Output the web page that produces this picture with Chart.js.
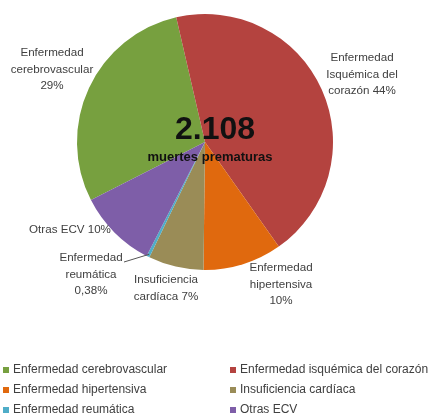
<!DOCTYPE html>
<html>
<head>
<meta charset="utf-8">
<script src="https://cdn.jsdelivr.net/npm/chart.js@4"></script>
<style>
  html, body { margin: 0; padding: 0; background: #fff; }
  #wrap { width: 430px; height: 414px; position: relative; overflow: hidden; }
</style>
</head>
<body>
<div id="wrap"><canvas id="pie" width="430" height="414"></canvas></div>
<script>
// data
const categories = ['Enfermedad cerebrovascular', 'Enfermedad isquémica del corazón', 'Enfermedad hipertensiva', 'Insuficiencia cardíaca', 'Enfermedad reumática', 'Otras ECV'];
const values = [29, 44, 10, 7, 0.38, 10];
const sliceLabels = [
	['Enfermedad', 'cerebrovascular', '29%'],
	['Enfermedad', 'Isquémica del', 'corazón 44%'],
	['Enfermedad', 'hipertensiva', '10%'],
	['Insuficiencia', 'cardíaca 7%'],
	['Enfermedad', 'reumática', '0,38%'],
	['Otras ECV 10%']
];
const colors = ['#77a03f', '#b4433f', '#e0690e', '#9a8c57', '#4fadc8', '#7e5ea8'];
const totalText = '2.108';
const subText = 'muertes prematuras';

// label centres (x, first line y)
const labelPos = [[52, 53], [362, 58], [281, 268], [166, 280], [91, 258], [70, 230]];

const labelsPlugin = {
	id: 'sliceLabels',
	afterDraw(chart) {
		let ctx = chart.ctx;
		ctx.save();
		ctx.textAlign = 'center';
		ctx.textBaseline = 'middle';
		ctx.fillStyle = '#404040';
		ctx.font = '11.6px "Liberation Sans", Arial, sans-serif';
		sliceLabels.forEach((lines, i) => {
			let p = labelPos[i];
			lines.forEach((ln, k) => ctx.fillText(ln, p[0], p[1] + k * 16.3));
		});

		// leader line for the tiny slice
		let arc = chart.getDatasetMeta(0).data[4];
		let mid = (arc.startAngle + arc.endAngle) / 2;
		let ex = arc.x + Math.cos(mid) * arc.outerRadius * 0.98;
		let ey = arc.y + Math.sin(mid) * arc.outerRadius * 0.98;
		ctx.strokeStyle = '#555';
		ctx.lineWidth = 1;
		ctx.beginPath();
		ctx.moveTo(124, 262);
		ctx.lineTo(ex, ey);
		ctx.stroke();

		// centre text
		ctx.fillStyle = '#111';
		ctx.font = 'bold 32px "Liberation Sans", Arial, sans-serif';
		ctx.fillText(totalText, 215, 130);
		ctx.font = 'bold 13px "Liberation Sans", Arial, sans-serif';
		ctx.fillText(subText, 210, 157);

		// legend, two columns
		ctx.font = '12px "Liberation Sans", Arial, sans-serif';
		ctx.textAlign = 'left';
		categories.forEach((c, i) => {
			let col = i % 2, row = Math.floor(i / 2);
			let x = col === 0 ? 3 : 230;
			let y = 370 + row * 20;
			ctx.fillStyle = colors[i];
			ctx.fillRect(x, y - 3, 6, 6);
			ctx.fillStyle = '#404040';
			ctx.fillText(c, x + 10, y);
		});
		ctx.restore();
	}
};

new Chart(document.getElementById('pie').getContext('2d'), {
	type: 'pie',
	data: {
		labels: categories,
		datasets: [{
			data: values,
			backgroundColor: colors,
			borderWidth: 0
		}]
	},
	options: {
		responsive: false,
		animation: false,
		rotation: -117,
		layout: { padding: { left: 77, right: 97, top: 14, bottom: 144 } },
		plugins: {
			legend: { display: false },
			tooltip: { enabled: false }
		}
	},
	plugins: [labelsPlugin]
});
</script>
</body>
</html>
